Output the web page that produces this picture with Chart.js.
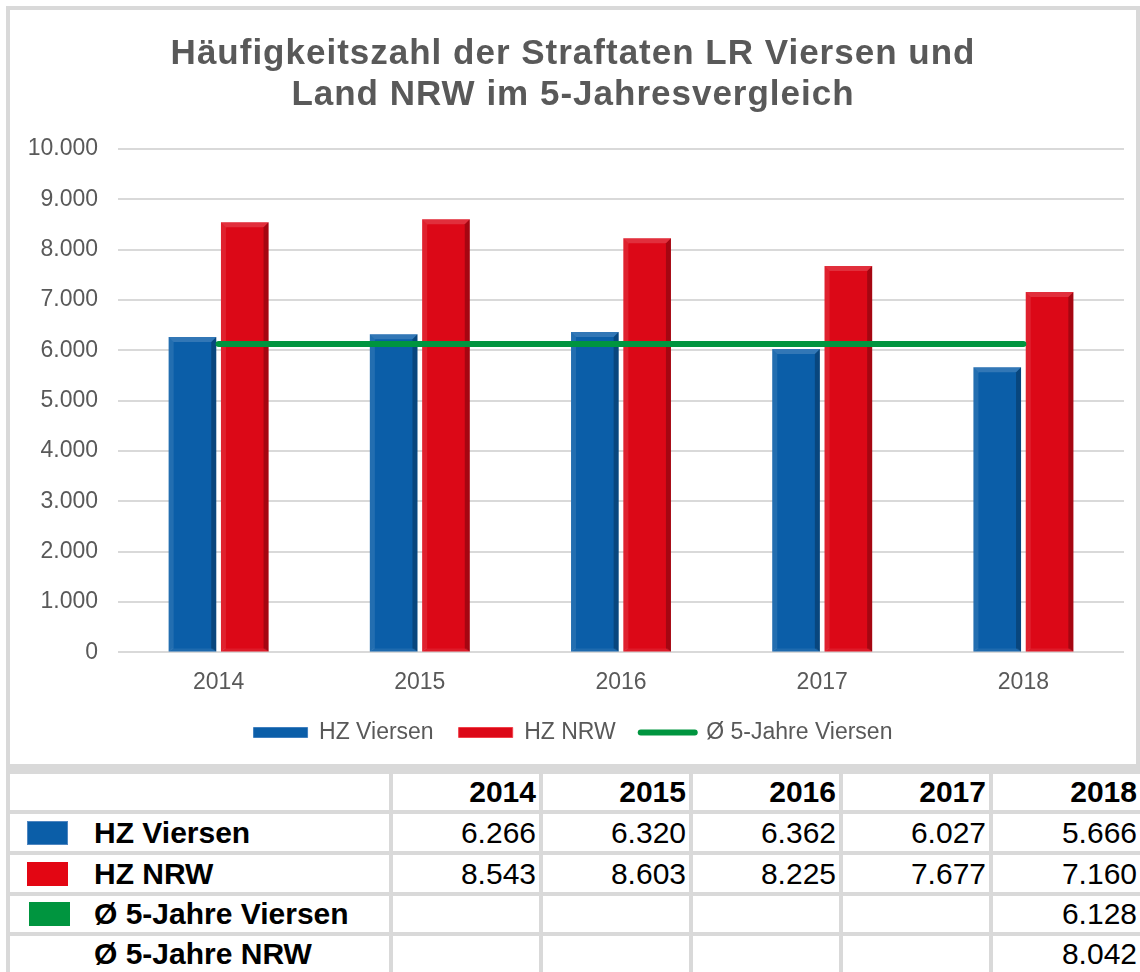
<!DOCTYPE html>
<html lang="de">
<head>
<meta charset="utf-8">
<script src="https://cdn.jsdelivr.net/npm/chart.js@4/dist/chart.umd.min.js"></script>
<style>
  html, body { margin: 0; padding: 0; background: #ffffff; }
  body { width: 1140px; height: 972px; position: relative; overflow: hidden;
         font-family: "Liberation Sans", Arial, Helvetica, sans-serif; }
  #frame { position: absolute; left: 6px; top: 6px; width: 1134px; height: 762px;
           border: 4px solid #d9d9d9; box-sizing: border-box; background: #fff; }
  #chartCanvas { position: absolute; left: 10px; top: 10px; }
  #table { position: absolute; left: 6px; top: 764px; width: 1134px; height: 208px; background: #d9d9d9; }
  .cell { position: absolute; background: #fff; box-sizing: border-box; font-size: 30px;
          color: #000; display: flex; align-items: center; white-space: nowrap; }
  .num { justify-content: flex-end; padding-right: 3px; }
  .hdr { font-weight: bold; }
  .lbl { font-weight: bold; }
  .sq { position: absolute; width: 41px; height: 24px; box-sizing: border-box; }
</style>
</head>
<body>
<div id="frame"></div>
<canvas id="chartCanvas" width="1126" height="754"></canvas>
<div id="table"></div>
<script>
// ---- data ----
const years = ['2014', '2015', '2016', '2017', '2018'];
const hzViersen = [6266, 6320, 6362, 6027, 5666];
const hzNRW = [8543, 8603, 8225, 7677, 7160];
const avgViersenLine = [6128, 6128, 6128, 6128, 6128];
const avgViersen5 = 6128;
const avgNRW5 = 8042;
const seriesNames = ['HZ Viersen', 'HZ NRW', 'Ø 5-Jahre Viersen', 'Ø 5-Jahre NRW'];
const titleLines = ['Häufigkeitszahl der Straftaten LR Viersen und', 'Land NRW im 5-Jahresvergleich'];
const yTickValues = [0, 1000, 2000, 3000, 4000, 5000, 6000, 7000, 8000, 9000, 10000];

const FONT = '"Liberation Sans", Arial, Helvetica, sans-serif';
const GRAY = '#595959';
const BLUE = '#0b5ea8';
const RED = '#dc0817';
const GREEN = '#00953f';

function fmt(n) {
  return String(n).replace(/\B(?=(\d{3})+(?!\d))/g, '.');
}

// bevel look for bars
const bevelPlugin = {
  id: 'bevel',
  afterDatasetDraw(chart, args) {
    const meta = args.meta;
    if (meta.type !== 'bar') return;
    const ctx = chart.ctx;
    ctx.save();
    meta.data.forEach(el => {
      const p = el.getProps(['x', 'y', 'base', 'width'], true);
      const l = p.x - p.width / 2, r = p.x + p.width / 2, t = p.y, b = p.base;
      const e = 5;
      ctx.fillStyle = 'rgba(255,255,255,0.10)';
      ctx.beginPath(); ctx.moveTo(l, t); ctx.lineTo(l + e, t + e); ctx.lineTo(l + e, b - 3); ctx.lineTo(l, b); ctx.closePath(); ctx.fill();
      ctx.fillStyle = 'rgba(0,0,0,0.25)';
      ctx.beginPath(); ctx.moveTo(r, t); ctx.lineTo(r - e, t + e); ctx.lineTo(r - e, b - 3); ctx.lineTo(r, b); ctx.closePath(); ctx.fill();
      ctx.fillStyle = 'rgba(255,255,255,0.16)';
      ctx.beginPath(); ctx.moveTo(l, t); ctx.lineTo(r, t); ctx.lineTo(r - e, t + e); ctx.lineTo(l + e, t + e); ctx.closePath(); ctx.fill();
      ctx.fillStyle = 'rgba(255,255,255,0.08)';
      ctx.beginPath(); ctx.moveTo(l, b); ctx.lineTo(r, b); ctx.lineTo(r - 3, b - 3); ctx.lineTo(l + 3, b - 3); ctx.closePath(); ctx.fill();
    });
    ctx.restore();
  }
};

// title letter spacing + legend vertical tightening
const LEGEND_SHIFT = 8;
const tweakPlugin = {
  id: 'tweaks',
  beforeLayout(chart) {
    const tb = chart.titleBlock;
    if (tb && !tb._spaced) {
      const origDraw = tb.draw;
      tb.draw = function () {
        const c = this.ctx;
        c.save();
        c.letterSpacing = '1px';
        origDraw.apply(this, arguments);
        c.restore();
      };
      tb._spaced = true;
    }
    const lg = chart.legend;
    if (lg && !lg._tight) {
      const origFit = lg.fit;
      lg.fit = function () {
        origFit.apply(this, arguments);
        this.height -= LEGEND_SHIFT;
      };
      const origLgDraw = lg.draw;
      lg.draw = function () {
        this.top -= LEGEND_SHIFT;
        origLgDraw.apply(this, arguments);
        this.top += LEGEND_SHIFT;
      };
      lg._tight = true;
    }
  }
};

const ctx = document.getElementById('chartCanvas').getContext('2d');
new Chart(ctx, {
  data: {
    labels: years,
    datasets: [
      { type: 'bar', label: seriesNames[0], data: hzViersen, backgroundColor: BLUE, borderWidth: 0,
        categoryPercentage: 0.52, barPercentage: 0.91, order: 1 },
      { type: 'bar', label: seriesNames[1], data: hzNRW, backgroundColor: RED, borderWidth: 0,
        categoryPercentage: 0.52, barPercentage: 0.91, order: 1 },
      { type: 'line', label: seriesNames[2], data: avgViersenLine, borderColor: GREEN, backgroundColor: GREEN,
        borderWidth: 6, borderCapStyle: 'round', pointRadius: 0, pointHoverRadius: 0, fill: false, order: 0 }
    ]
  },
  options: {
    responsive: false,
    animation: false,
    devicePixelRatio: 1,
    layout: { padding: { left: 12, right: 12, top: 0, bottom: 10 } },
    plugins: {
      tooltip: { enabled: false },
      title: {
        display: true,
        text: titleLines,
        color: GRAY,
        font: { family: FONT, size: 35, weight: 'bold', lineHeight: 1.171 },
        padding: { top: 23.5, bottom: 33.5 }
      },
      legend: {
        position: 'bottom',
        labels: {
          usePointStyle: true,
          pointStyleWidth: 54,
          boxHeight: 10,
          padding: 25,
          color: GRAY,
          font: { family: FONT, size: 23 },
          generateLabels(chart) {
            const items = Chart.defaults.plugins.legend.labels.generateLabels(chart);
            items.sort((a, b) => a.datasetIndex - b.datasetIndex);
            items.forEach(it => {
              const i = it.datasetIndex;
              if (i === 2) {
                it.pointStyle = 'line';
                it.strokeStyle = GREEN;
                it.fillStyle = GREEN;
                it.lineWidth = 6;
                it.lineCap = 'round';
              } else {
                it.pointStyle = 'rect';
                it.lineWidth = 1;
                it.fillStyle = i === 0 ? BLUE : RED;
                it.strokeStyle = i === 0 ? '#3f7fbf' : '#f0404a';
              }
            });
            return items;
          }
        }
      }
    },
    scales: {
      x: {
        grid: { display: false },
        border: { display: false },
        ticks: { color: GRAY, font: { family: FONT, size: 23 }, padding: 8 }
      },
      y: {
        min: 0,
        max: 10000,
        afterBuildTicks(scale) { scale.ticks = yTickValues.map(v => ({ value: v })); },
        afterFit(scale) { scale.width = 96; },
        grid: { color: '#d9d9d9', lineWidth: 2, drawTicks: false },
        border: { display: false },
        ticks: { color: GRAY, font: { family: FONT, size: 23 }, padding: 20,
                 callback: v => fmt(v) }
      }
    }
  },
  plugins: [bevelPlugin, tweakPlugin]
});

// ---- data table below the chart ----
const table = document.getElementById('table');
const colX = [[10, 389], [393, 539], [543, 689], [693, 839], [843, 989], [993, 1140]];
const rowY = [[774, 810], [814, 851], [855, 892], [896, 932], [936, 972]];
const squareColors = [BLUE, '#e30613', GREEN, null];
const squareBorders = ['#4f86c0', '#e30613', GREEN, null];
const rowValues = [
  hzViersen.map(fmt),
  hzNRW.map(fmt),
  ['', '', '', '', fmt(avgViersen5)],
  ['', '', '', '', fmt(avgNRW5)]
];

function addCell(x0, x1, y0, y1, cls, text) {
  const d = document.createElement('div');
  d.className = 'cell ' + cls;
  d.style.left = (x0 - 6) + 'px';
  d.style.top = (y0 - 764) + 'px';
  d.style.width = (x1 - x0) + 'px';
  d.style.height = (y1 - y0) + 'px';
  if (text !== undefined) {
    const s = document.createElement('span');
    s.textContent = text;
    d.appendChild(s);
  }
  table.appendChild(d);
  return d;
}

addCell(colX[0][0], colX[0][1], rowY[0][0], rowY[0][1], '', undefined);
years.forEach((y, i) => addCell(colX[i + 1][0], colX[i + 1][1], rowY[0][0], rowY[0][1], 'num hdr', y));

seriesNames.forEach((name, r) => {
  const [y0, y1] = rowY[r + 1];
  const lab = addCell(colX[0][0], colX[0][1], y0, y1, 'lbl', undefined);
  lab.style.paddingLeft = '84px';
  const sp = document.createElement('span');
  sp.textContent = name;
  lab.appendChild(sp);
  if (squareColors[r]) {
    const sq = document.createElement('div');
    sq.className = 'sq';
    sq.style.background = squareColors[r];
    sq.style.border = '1px solid ' + squareBorders[r];
    sq.style.left = (r === 2 ? 19 : 17) + 'px';
    sq.style.top = ((y1 - y0) / 2 - 12) + 'px';
    lab.appendChild(sq);
  }
  rowValues[r].forEach((v, i) => addCell(colX[i + 1][0], colX[i + 1][1], y0, y1, 'num', v));
});
</script>
</body>
</html>
